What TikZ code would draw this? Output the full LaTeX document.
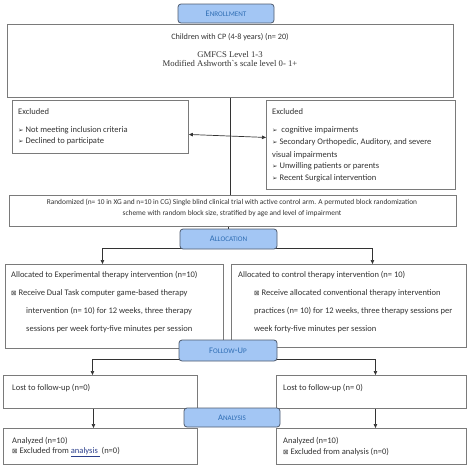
\documentclass[tikz,border=0pt]{standalone}
\usepackage{fontspec}
\setmainfont{Carlito}
\newfontfamily\timesfont{Liberation Serif}
\newfontfamily\symfont{DejaVu Sans}
\usetikzlibrary{arrows.meta}

\definecolor{tabfill}{HTML}{A3C6F4}
\definecolor{tabdraw}{HTML}{4F5B6E}
\definecolor{tabtext}{HTML}{2E6DB4}
\definecolor{boxdraw}{HTML}{7A7A7A}
\definecolor{txtgray}{HTML}{333333}
\definecolor{linkblue}{HTML}{2B3F8C}

\newcommand{\bul}{{\symfont\fontsize{6.5}{7}\selectfont ➢}\ }
\newcommand{\chk}{{\symfont\fontsize{6.5}{7}\selectfont ⊠}\ }
\newcommand{\tabtitle}[2]{{\fontsize{8.5}{9}\selectfont #1}{\fontsize{7.1}{8}\selectfont #2}}

\begin{document}
\begin{tikzpicture}[x=1pt, y=-1pt]
		% Styles
		\tikzstyle{box}=[draw=boxdraw, line width=0.9pt, fill=white, anchor=north west, inner sep=0pt]
		\tikzstyle{tab}=[draw=tabdraw, line width=0.8pt, fill=tabfill, rounded corners=3pt, minimum width=97pt, minimum height=20pt, inner sep=0pt, text=tabtext]
		\tikzstyle{txt}=[anchor=west, inner sep=0pt, text=txtgray, font=\fontsize{8.5}{9}\selectfont]
		\tikzstyle{link}=[draw=black!80, line width=0.7pt]
		\tikzstyle{arr}=[link, -{Triangle[length=4pt,width=3.5pt]}]

		\useasboundingbox (0,0) rectangle (474,467);

		% Boxes
		\node[box, minimum width=446pt, minimum height=73pt] (enroll) at (7,24) {};
		\node[box, minimum width=176pt, minimum height=53pt] (exclL) at (12,100) {};
		\node[box, minimum width=189pt, minimum height=89pt] (exclR) at (266,100) {};
		\node[box, minimum width=447pt, minimum height=31pt] (rand) at (9,195) {};
		\node[box, minimum width=218pt, minimum height=84pt] (allocL) at (5,264) {};
		\node[box, minimum width=235pt, minimum height=83pt] (allocR) at (231,264) {};
		\node[box, minimum width=194pt, minimum height=33pt] (lostL) at (3,375) {};
		\node[box, minimum width=190pt, minimum height=33pt] (lostR) at (276,375) {};
		\node[box, minimum width=194pt, minimum height=36pt] (anaL) at (3,428) {};
		\node[box, minimum width=190pt, minimum height=36pt] (anaR) at (276,428) {};

		% Tabs (placed first, drawn later)
		\path (226,13.5) coordinate (cEnroll) (228.5,239) coordinate (cAlloc)
		      (228,350.5) coordinate (cFollow) (232,417.5) coordinate (cAnalysis);

		% Connectors
		\draw[link] (enroll.south) -- (enroll.south |- rand.north);
		\draw[link, {Triangle[length=4pt,width=3.5pt]}-{Triangle[length=4pt,width=3.5pt]}]
			([yshift=-7.5pt]exclL.east) -- ([yshift=7.5pt]exclR.west);
		\draw[arr] (cAlloc |- rand.south) -- ([yshift=-7pt]cAlloc);
		\draw[arr] ([yshift=-9pt]cAlloc) -| ([xshift=-12pt]allocL.north);
		\draw[arr] ([yshift=-9pt]cAlloc) -| ([xshift=23.5pt]allocR.north);
		\draw[arr] ([yshift=-8.5pt]cFollow) -| ([xshift=-8pt]lostL.north);
		\draw[arr] ([yshift=-8.5pt]cFollow) -| ([xshift=4pt]lostR.north);
		\draw[arr] ([xshift=-7pt]lostL.south) -- ([xshift=-7pt]anaL.north);
		\draw[arr] ([xshift=4pt]lostR.south) -- ([xshift=4pt]anaR.north);

		% Tabs
		\node[tab, minimum width=96pt, minimum height=19pt] (tEnroll) at (cEnroll) {\tabtitle{E}{NROLLMENT}};
		\node[tab] (tAlloc) at (cAlloc) {\tabtitle{A}{LLOCATION}};
		\node[tab, minimum width=98pt, minimum height=21pt] (tFollow) at (cFollow) {\tabtitle{F}{OLLOW}-\tabtitle{U}{P}};
		\node[tab, minimum width=96pt, minimum height=19pt] (tAnalysis) at (cAnalysis) {\tabtitle{A}{NALYSIS}};

		% Enrollment text
		\node[txt, anchor=center, font=\fontsize{8.2}{9}\selectfont] (enrollA) at (230,37) {Children with CP (4-8 years) (n= 20)};
		\node[txt, anchor=center, font=\timesfont\fontsize{8.7}{9}\selectfont] (enrollB) at (230,55) {GMFCS Level 1-3};
		\node[txt, anchor=center, font=\timesfont\fontsize{8.7}{9}\selectfont] (enrollC) at (230,63) {Modified Ashworth`s scale level 0- 1+};

		% Excluded (left)
		\foreach \y/\t [count=\i] in {112/Excluded, 130/{\bul Not meeting inclusion criteria}, 141/{\bul Declined to participate}}
		\node[txt] (exL\i) at (18,\y) {\t};

		% Excluded (right)
		\foreach \y/\t [count=\i] in {112/Excluded, 130/{\bul\ cognitive impairments}, 142/{\bul Secondary Orthopedic, Auditory, and severe}, 155/{visual impairments}, 166/{\bul Unwilling patients or parents}, 178/{\bul Recent Surgical intervention}}
		\node[txt] (exR\i) at (272,\y) {\t};

		% Randomized
		\node[txt, anchor=center, font=\fontsize{7.4}{8}\selectfont] (randA) at (232,202) {Randomized (n= 10 in XG and n=10 in CG) Single blind clinical trial with active control arm. A permuted block randomization};
		\node[txt, anchor=center, font=\fontsize{7.4}{8}\selectfont] (randB) at (232,214) {scheme with random block size, stratified by age and level of impairment};

		% Allocation
		\foreach \x/\y/\t [count=\i] in {11/275/{Allocated to Experimental therapy intervention (n=10)}, 11/293/{\chk Receive Dual Task computer game-based therapy}, 26/311/{intervention (n= 10) for 12 weeks, three therapy}, 26/329/{sessions per week forty-five minutes per session}}
		\node[txt] (alL\i) at (\x,\y) {\t};
		\foreach \x/\y/\t [count=\i] in {238/275/{Allocated to control therapy intervention (n= 10)}, 254/293/{\chk Receive allocated conventional therapy intervention}, 254/311/{practices (n= 10) for 12 weeks, three therapy sessions per}, 254/329/{week forty-five minutes per session}}
		\node[txt] (alR\i) at (\x,\y) {\t};

		% Follow-up and analysis
		\node[txt] (lostLt) at (12,388) {Lost to follow-up (n=0)};
		\node[txt] (lostRt) at (283,388) {Lost to follow-up (n= 0)};
		\node[txt] (anaL1) at (12,441) {Analyzed (n=10)};
		\node[txt] (anaL2) at (12,452) {\chk Excluded from {\color{linkblue}\underline{analysis\ }} (n=0)};
		\node[txt] (anaR1) at (283,441) {Analyzed (n=10)};
		\node[txt] (anaR2) at (283,452) {\chk Excluded from analysis (n=0)};
	\end{tikzpicture}
\end{document}
